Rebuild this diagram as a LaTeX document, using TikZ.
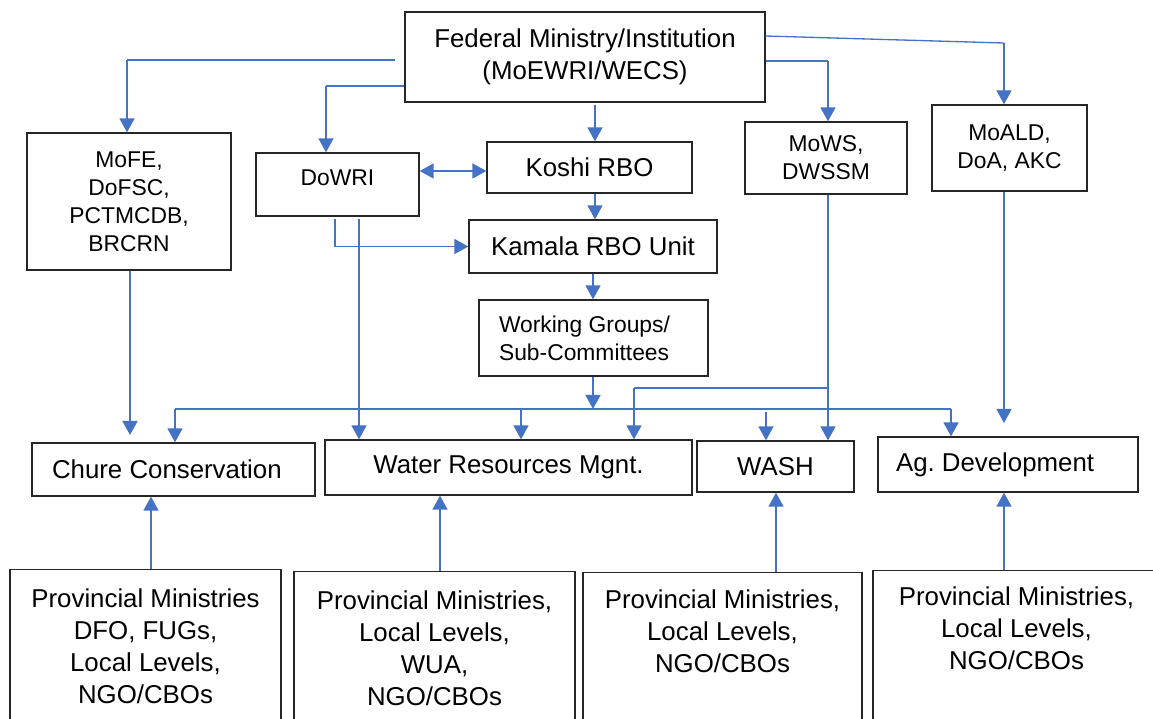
\documentclass[tikz,border=0pt]{standalone}
\usepackage{fontspec}
\setmainfont{Liberation Sans}
\usetikzlibrary{arrows.meta}
\frenchspacing
\definecolor{linkblue}{HTML}{4472C4}
\newcommand{\boxfont}{\fontsize{14.7}{18.2}\selectfont}
\newcommand{\subfont}{\fontsize{13}{16}\selectfont}
\tikzset{
	box/.style={draw=black!85, line width=0.75pt, inner sep=0pt, align=center, font=\boxfont},
	panel/.style={box, anchor=north, text depth=5cm},
	link/.style={draw=linkblue, line width=1.1pt, ->},
	thinlink/.style={draw=linkblue, line width=0.75pt},
	>={Triangle[width=8.5pt,length=8pt]}
}
\begin{document}
\begin{tikzpicture}[x=0.02cm, y=-0.02cm]
	\useasboundingbox (0,0) rectangle (1153,718);
	\fill[white] (0,0) rectangle (1153,718);
	\clip (0,0) rectangle (1153,718);

	% top level
	\node[box, minimum width=7.2cm, minimum height=1.8cm] (fed) at (585,57) {Federal Ministry/Institution\\(MoEWRI/WECS)};
	\node[box, font=\subfont, minimum width=4.08cm, minimum height=2.74cm] (mofe) at (129,201.5) {MoFE,\\DoFSC,\\PCTMCDB,\\BRCRN};
	\node[box, font=\subfont, minimum width=3.26cm, minimum height=1.26cm, text depth=7.4pt] (dowri) at (337.5,184.5) {DoWRI};
	\node[box, minimum width=4.1cm, minimum height=1.02cm] (koshi) at (589.5,167.5) {Koshi RBO};
	\node[box, minimum width=4.96cm, minimum height=1.06cm] (kamala) at (593,246.5) {Kamala RBO Unit};
	\node[box, font=\subfont, align=flush left, text width=3.78cm, inner xsep=0.4cm, minimum height=1.52cm] (wg) at (593.5,338) {Working Groups/\\Sub-Committees};
	\node[box, font=\subfont, minimum width=3.24cm, minimum height=1.44cm] (mows) at (826,158) {MoWS,\\DWSSM};
	\node[box, font=\subfont, minimum width=3.1cm, minimum height=1.72cm] (moald) at (1009.5,148) {MoALD,\\DoA, AKC};

	% sectors
	\node[box, align=flush left, text width=4.86cm, inner xsep=0.4cm, minimum height=1.06cm] (chure) at (173.5,469.5) {Chure Conservation};
	\node[box, minimum width=7.34cm, minimum height=1.1cm] (wrm) at (508.5,467.5) {Water Resources Mgnt.};
	\node[box, minimum width=3.14cm, minimum height=1.02cm] (wash) at (775.5,466.5) {WASH};
	\node[box, align=flush left, text width=4.48cm, inner xsep=0.36cm, minimum height=1.1cm] (ag) at (1008,464.5) {Ag. Development};

	% local level
	\node[panel, minimum width=5.42cm, inner ysep=0.39cm] (pm1) at (145.5,569) {Provincial Ministries\\DFO, FUGs,\\Local Levels,\\NGO/CBOs};
	\node[panel, minimum width=5.62cm, inner ysep=0.38cm] (pm2) at (434.5,571) {Provincial Ministries,\\Local Levels,\\WUA,\\NGO/CBOs};
	\node[panel, minimum width=5.58cm, inner ysep=0.35cm] (pm3) at (722.5,572) {Provincial Ministries,\\Local Levels,\\NGO/CBOs};
	\node[panel, minimum width=5.74cm, inner ysep=0.33cm] (pm4) at (1016.5,570) {Provincial Ministries,\\Local Levels,\\NGO/CBOs};

	% from the federal box
	\coordinate (jMofe) at (127,60);
	\draw[thinlink] (395,60) -- (jMofe);
	\draw[link] (jMofe) -- (jMofe |- mofe.north);
	\coordinate (jDowri) at (326,86);
	\draw[thinlink] (fed.west |- jDowri) -- (jDowri);
	\draw[link] (jDowri) -- (jDowri |- dowri.north);
	\coordinate (jKoshi) at (595,105);
	\draw[link] (jKoshi) -- (jKoshi |- koshi.north);
	\coordinate (jMows) at (828,61);
	\draw[thinlink] (fed.east |- jMows) -- (jMows);
	\draw[link] (jMows) -- (jMows |- mows.north);
	\coordinate (jMoald) at (1004,43);
	\draw[thinlink] (fed.east |- 0,36) -- (jMoald);
	\draw[link] (jMoald) -- (jMoald |- moald.north);

	% river basin offices
	\draw[link, <->] (dowri.east |- 0,171) -- (koshi.west |- 0,171);
	\draw[link] (koshi.south -| jKoshi) -- (kamala.north -| jKoshi);
	\coordinate (dA) at (335,219);
	\draw[link] (dA) |- (kamala.west);
	\coordinate (dB) at (359,219);
	\draw[link] (dB) -- (dB |- wrm.north);
	\draw[link] (kamala.south) -- (kamala.south |- wg.north);

	% distribution to sectors
	\coordinate (bus) at (593,409);
	\coordinate (busL) at (175,409);
	\coordinate (busW) at (521,409);
	\coordinate (busS) at (766,412);
	\coordinate (busR) at (951,409);
	\draw[link] (wg.south -| bus) -- (bus);
	\draw[thinlink] (busL) -- (busR);
	\draw[link] (busL) -- (busL |- chure.north);
	\draw[link] (busW) -- (busW |- wrm.north);
	\draw[link] (busS) -- (busS |- wash.north);
	\draw[link] (busR) -- (busR |- ag.north);

	\coordinate (mA) at (828,388);
	\coordinate (mB) at (634,388);
	\draw[link] (mows.south -| mA) -- (mA |- wash.north);
	\draw[thinlink] (mA) -- (mB);
	\draw[link] (mB) -- (mB |- wrm.north);

	\coordinate (aA) at (1004,423);
	\draw[link] (moald.south -| aA) -- (aA);
	\coordinate (cA) at (130,435);
	\draw[link] (mofe.south -| cA) -- (cA);

	% local level upwards
	\foreach \a/\b/\x in {pm1/chure/151, pm2/wrm/440, pm3/wash/776, pm4/ag/1004}
		\draw[link] (\a.north -| \x,0) -- (\b.south -| \x,0);
\end{tikzpicture}
\end{document}
